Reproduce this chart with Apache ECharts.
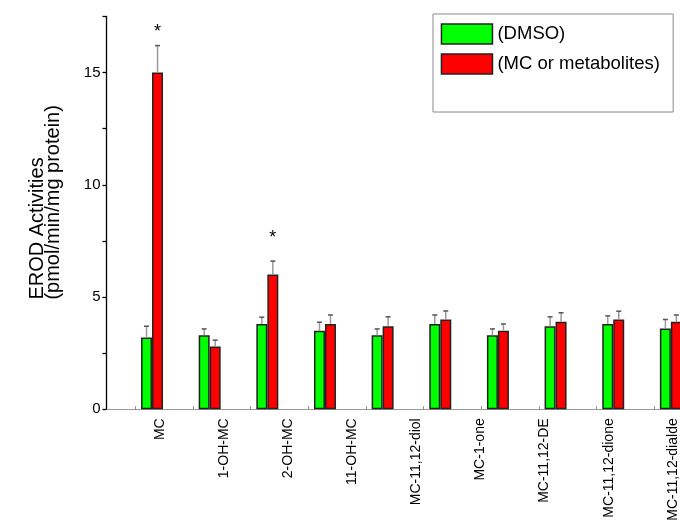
<!DOCTYPE html>
<html><head><meta charset="utf-8">
<script src="https://cdn.jsdelivr.net/npm/echarts@6/dist/echarts.min.js"></script>
<style>html,body{margin:0;padding:0;background:#fff}#c{width:680px;height:521px}</style>
</head><body><div id="c"></div>
<script>
// ---- data ----
const tickLabels = ['MC','1-OH-MC','2-OH-MC','11-OH-MC','MC-11,12-diol','MC-1-one','MC-11,12-DE','MC-11,12-dione','MC-11,12-dialde'];
const groups = ['1','2','3','4','5','6','7','8','9','10'];
const dmso = [3.2, 3.3, 3.8, 3.5, 3.3, 3.8, 3.3, 3.7, 3.8, 3.6];
const dmsoErr = [0.5, 0.28, 0.3, 0.38, 0.28, 0.4, 0.28, 0.42, 0.36, 0.4];
const treated = [15.0, 2.8, 6.0, 3.8, 3.7, 4.0, 3.5, 3.9, 4.0, 3.9];
const treatedErr = [1.2, 0.28, 0.6, 0.4, 0.42, 0.38, 0.3, 0.4, 0.37, 0.3];
const starAt = [17.0, null, 7.8, null, null, null, null, null, null, null];
const seriesNames = ['(DMSO)', '(MC or metabolites)'];
const yName = ['EROD Activities', '(pmol/min/mg protein)'];

const FONT = '"Liberation Sans", Arial, Helvetica, sans-serif';
const BW = 11;
const Y = {min: 0, max: 17.5, interval: 2.5};
const TOP = 16.4, BOTTOM = 111.7;

function errSeries(name, vals, errs, sign, stars) {
  return {
    type: 'custom', name: name + ' err', xAxisIndex: 1, yAxisIndex: 1, z: 5, silent: true,
    data: vals.map((v, i) => [i, v, errs[i], (stars && stars[i] != null) ? stars[i] : -1]),
    renderItem(params, api) {
      const i = api.value(0), v = api.value(1), e = api.value(2), s = api.value(3);
      const b = api.coord([i, v]);
      const t = api.coord([i, v + e]);
      const x = b[0] + sign * BW / 2;
      const ch = [
        {type: 'line', shape: {x1: x, y1: b[1], x2: x, y2: t[1]}, style: {stroke: '#9a9a9a', lineWidth: 1.5}},
        {type: 'line', shape: {x1: x - 2.5, y1: t[1], x2: x + 2.5, y2: t[1]}, style: {stroke: '#555', lineWidth: 1.5}}
      ];
      if (s >= 0) {
        const p = api.coord([i, s]);
        ch.push({type: 'text', x: x, y: p[1] + 4, style: {text: '*', fontSize: 18, fontFamily: FONT, fill: '#000', align: 'center', verticalAlign: 'middle'}});
      }
      return {type: 'group', children: ch};
    }
  };
}

const chart = echarts.init(document.getElementById('c'), null, {renderer: 'canvas'});
chart.setOption({
  animation: false,
  backgroundColor: '#fff',
  textStyle: {fontFamily: FONT},
  legend: {
    data: seriesNames, orient: 'vertical', left: 433, top: 14,
    padding: [9.3, 13.3, 37.3, 7.7], itemWidth: 51, itemHeight: 20, itemGap: 8.4,
    borderColor: '#888', borderWidth: 1, icon: 'rect',
    itemStyle: {borderColor: '#222', borderWidth: 1.5},
    textStyle: {fontSize: 18.5, color: '#000', fontFamily: FONT}
  },
  grid: [
    {left: 106.5, right: -3, top: TOP, bottom: BOTTOM, containLabel: false, outerBoundsMode: 'none'},
    {left: 123.2, right: -19.7, top: TOP, bottom: BOTTOM, containLabel: false, outerBoundsMode: 'none'},
    {left: 127.95, right: -24.85, top: TOP, bottom: BOTTOM, containLabel: false, outerBoundsMode: 'none'}
  ],
  xAxis: [
    {gridIndex: 0, type: 'category', data: groups, boundaryGap: true,
      axisLine: {show: true, lineStyle: {color: '#999', width: 1}},
      axisTick: {show: true, alignWithLabel: true, interval: 0, inside: true, length: 3, lineStyle: {color: '#888'}},
      axisLabel: {show: false}, splitLine: {show: false}},
    {gridIndex: 1, type: 'category', data: groups, boundaryGap: true, show: false},
    {gridIndex: 2, type: 'category', data: tickLabels, boundaryGap: true,
      axisLine: {show: false}, axisTick: {show: false}, splitLine: {show: false},
      axisLabel: {show: true, rotate: 90, interval: 0, margin: 9, fontSize: 14, color: '#000', fontFamily: FONT, hideOverlap: false}}
  ],
  yAxis: [
    {gridIndex: 0, type: 'value', min: Y.min, max: Y.max, interval: Y.interval,
      axisLine: {show: true, lineStyle: {color: '#000', width: 1.3}},
      axisTick: {show: true, length: 4, lineStyle: {color: '#000', width: 1.3}},
      axisLabel: {formatter: v => (v % 5 === 0 ? String(v) : ''), fontSize: 15, color: '#000', margin: 6, fontFamily: FONT},
      splitLine: {show: false},
      name: '{a|' + yName[0] + '}\n{a|' + yName[1] + '}',
      nameLocation: 'middle', nameGap: 45, nameRotate: 90, nameMoveOverlap: false,
      nameTextStyle: {fontSize: 20, lineHeight: 16, color: '#000', fontFamily: FONT, padding: [0, 0, 0, 21],
        rich: {a: {align: 'left', fontSize: 20, lineHeight: 16, color: '#000', fontFamily: FONT}}}},
    {gridIndex: 1, type: 'value', min: Y.min, max: Y.max, interval: Y.interval, show: false},
    {gridIndex: 2, type: 'value', min: Y.min, max: Y.max, interval: Y.interval, show: false}
  ],
  series: [
    {type: 'bar', name: seriesNames[0], xAxisIndex: 1, yAxisIndex: 1, data: dmso, barWidth: BW, barGap: '0%',
      itemStyle: {color: '#00ff00', borderColor: '#222', borderWidth: 1.5}, silent: true},
    {type: 'bar', name: seriesNames[1], xAxisIndex: 1, yAxisIndex: 1, data: treated, barWidth: BW, barGap: '0%',
      itemStyle: {color: '#ff0000', borderColor: '#222', borderWidth: 1.5}, silent: true},
    errSeries(seriesNames[0], dmso, dmsoErr, -1, null),
    errSeries(seriesNames[1], treated, treatedErr, 1, starAt)
  ]
});
</script></body></html>
